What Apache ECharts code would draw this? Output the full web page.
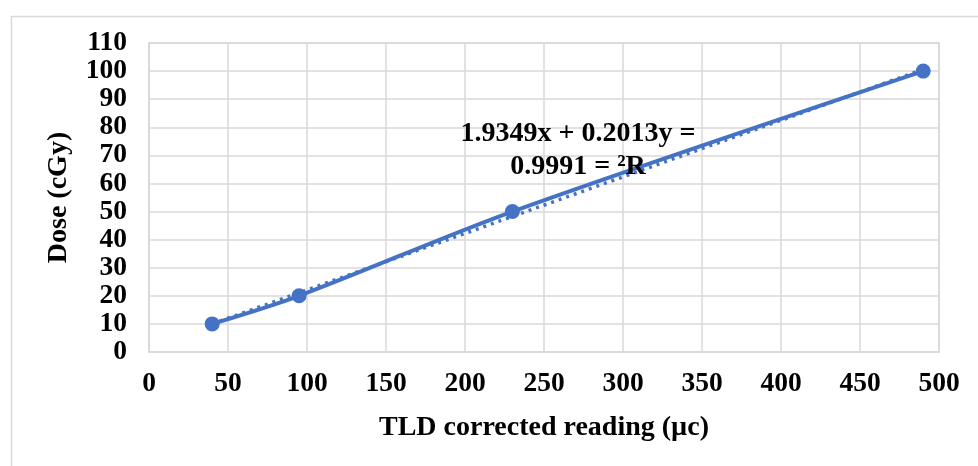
<!DOCTYPE html>
<html><head><meta charset="utf-8">
<script src="https://cdn.jsdelivr.net/npm/echarts@6/dist/echarts.min.js"></script>
<style>html,body{margin:0;padding:0;background:#fff}#c{width:978px;height:466px}</style>
</head><body><div id="c"></div>
<script>
const readings = [40, 95, 230, 490];
const doses = [10, 20, 50, 100];
const trendX = [40, 490];
const trendY = [10.0, 100.6];
const xTicks = {min: 0, max: 500, interval: 50};
const yTicks = {min: 0, max: 110, interval: 10};
const eqLines = ['1.9349x + 0.2013y =', '0.9991 = \u00B2R'];
const xName = 'TLD corrected reading (\u00B5c)';
const yName = 'Dose (cGy)';

const blue = '#4472C4';
const grey = '#d9d9d9';
const font = '"Liberation Serif", "Times New Roman", serif';

const chart = echarts.init(document.getElementById('c'));
chart.setOption({
  animation: false,
  backgroundColor: '#fff',
  textStyle: {fontFamily: font},
  grid: {left: 149, top: 43, right: 39, bottom: 114, show: true, borderColor: grey, borderWidth: 1.5},
  xAxis: {
    type: 'value', min: xTicks.min, max: xTicks.max, interval: xTicks.interval,
    name: xName, nameLocation: 'middle', nameGap: 62,
    nameTextStyle: {fontFamily: font, fontWeight: 'bold', fontSize: 28, color: '#000'},
    axisLine: {show: true, lineStyle: {color: grey, width: 1.5}},
    axisTick: {show: false},
    axisLabel: {fontFamily: font, fontWeight: 'bold', fontSize: 27.5, color: '#000', margin: 18},
    splitLine: {show: true, lineStyle: {color: grey, width: 1.5}}
  },
  yAxis: {
    type: 'value', min: yTicks.min, max: yTicks.max, interval: yTicks.interval,
    name: yName, nameLocation: 'middle', nameGap: 76, nameRotate: 90,
    nameTextStyle: {fontFamily: font, fontWeight: 'bold', fontSize: 28, color: '#000'},
    axisLine: {show: true, lineStyle: {color: grey, width: 1.5}},
    axisTick: {show: false},
    axisLabel: {fontFamily: font, fontWeight: 'bold', fontSize: 27.5, color: '#000', margin: 22},
    splitLine: {show: true, lineStyle: {color: grey, width: 1.5}}
  },
  graphic: [
    {type: 'rect', left: 9, top: 14, z: 0, shape: {width: 1100, height: 600},
     style: {fill: 'none', stroke: grey, lineWidth: 1.5}, silent: true},
    {type: 'text', x: 578, y: 134, z: 100, style: {text: eqLines[0], font: 'bold 28px ' + font, fill: '#000', textAlign: 'center', textVerticalAlign: 'middle'}},
    {type: 'text', x: 578, y: 167, z: 100, style: {text: eqLines[1], font: 'bold 28px ' + font, fill: '#000', textAlign: 'center', textVerticalAlign: 'middle'}}
  ],
  series: [
    {
      type: 'line', data: trendX.map((x, i) => [x, trendY[i]]),
      showSymbol: false, symbol: 'none',
      lineStyle: {color: blue, width: 3.5, type: [3, 5]}, z: 2
    },
    {
      type: 'line', data: readings.map((x, i) => [x, doses[i]]),
      smooth: 0.3, symbol: 'circle', symbolSize: 15,
      itemStyle: {color: blue}, lineStyle: {color: blue, width: 4}, z: 3
    }
  ]
});
</script></body></html>
